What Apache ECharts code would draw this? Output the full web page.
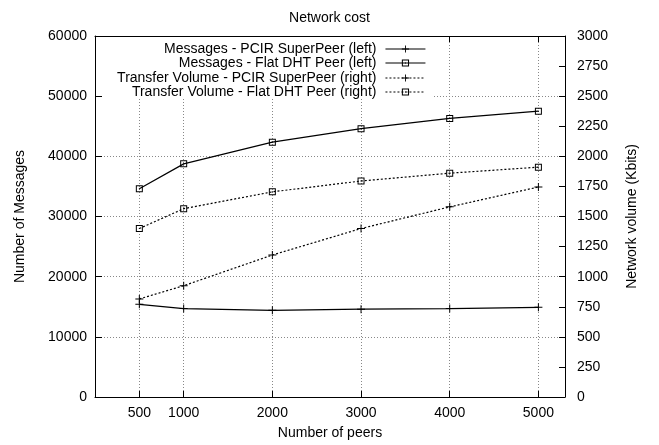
<!DOCTYPE html>
<html>
<head>
<meta charset="utf-8">
<script src="https://cdn.jsdelivr.net/npm/echarts@6/dist/echarts.min.js"></script>
<style>html,body{margin:0;padding:0;background:#fff}#c{width:659px;height:445px}</style>
</head>
<body>
<div id="c"></div>
<script>
const peers = [500, 1000, 2000, 3000, 4000, 5000];
const msgPcir = [15400, 14700, 14400, 14600, 14700, 14900];
const msgFlat = [34600, 38750, 42350, 44600, 46300, 47500];
const volPcir = [815, 925, 1180, 1400, 1580, 1745];
const volFlat = [1400, 1565, 1705, 1795, 1860, 1910];
const leftTicks = {min: 0, max: 60000, interval: 10000};
const rightTicks = {min: 0, max: 3000, interval: 250};
const names = [
  'Messages - PCIR SuperPeer (left)',
  'Messages - Flat DHT Peer (left)',
  'Transfer Volume - PCIR SuperPeer (right)',
  'Transfer Volume - Flat DHT Peer (right)'
];

const FONT = 'Liberation Sans';
const crossSym = 'path://M7,0H9V7H16V9H9V16H7V9H0V7H7Z';
const squareSym = 'path://M0,0H14V14H0Z M2,2V12H12V2Z M6,6H8V8H6Z';
const zip = (xs, ys) => xs.map((x, i) => [x, ys[i]]);
const plain = v => String(v);

const chart = echarts.init(document.getElementById('c'), null, {renderer: 'canvas'});
const txt = {color: '#000', fontFamily: FONT, fontSize: 14};

function mkSeries(name, data, yIdx, dotted, sym, size) {
  return {
    name: name, type: 'line', xAxisIndex: 0, yAxisIndex: yIdx,
    data: data, symbol: sym, symbolSize: size, symbolKeepAspect: true,
    showSymbol: true,
    lineStyle: {color: '#000', width: 1.2, type: dotted ? [2, 2] : 'solid'},
    itemStyle: {color: '#000'},
    emphasis: {disabled: true}
  };
}

const legendCenters = [49, 63, 78, 92];
const legends = names.map((n, i) => ({
  data: [n], orient: 'vertical', align: 'right', right: 233,
  top: legendCenters[i] - 7, itemWidth: 40, itemHeight: 9, padding: 0,
  selectedMode: false,
  lineStyle: {width: 1.1},
  textStyle: Object.assign({}, txt, {lineHeight: 14, padding: [0, 4, 0, 0]})
}));

const option = {
  animation: false,
  backgroundColor: '#fff',
  title: {text: 'Network cost', left: 'center', top: 6,
    textStyle: {color: '#000', fontFamily: FONT, fontSize: 14, fontWeight: 'normal'}},
  grid: {left: 95, right: 94, top: 36, bottom: 45, containLabel: false},
  legend: legends,
  graphic: [{type: 'rect', shape: {x: 103, y: 37, width: 330, height: 62},
    style: {fill: '#fff'}, z: 1, silent: true}],
  xAxis: [{
    type: 'value', min: 0, max: 5300, position: 'bottom',
    name: 'Number of peers', nameLocation: 'middle', nameGap: 29,
    nameTextStyle: txt,
    axisLine: {show: true, onZero: false, lineStyle: {color: '#000', width: 1}},
    axisTick: {show: true, inside: true, length: 6, customValues: peers, lineStyle: {color: '#000'}},
    axisLabel: Object.assign({customValues: peers, margin: 9, formatter: plain}, txt),
    splitLine: {show: true, lineStyle: {color: '#888', width: 1, type: [1, 2]}}
  }, {
    type: 'value', min: 0, max: 5300, position: 'top',
    axisLine: {show: true, onZero: false, lineStyle: {color: '#000', width: 1}},
    axisTick: {show: true, inside: true, length: 6, customValues: peers, lineStyle: {color: '#000'}},
    axisLabel: {show: false},
    splitLine: {show: false}
  }],
  yAxis: [{
    type: 'value', min: leftTicks.min, max: leftTicks.max, interval: leftTicks.interval,
    position: 'left',
    name: 'Number of Messages', nameLocation: 'middle', nameGap: 68, nameRotate: 90,
    nameTextStyle: txt,
    axisLine: {show: true, onZero: false, lineStyle: {color: '#000', width: 1}},
    axisTick: {show: true, inside: true, length: 7, lineStyle: {color: '#000'}},
    axisLabel: Object.assign({margin: 8, formatter: plain}, txt),
    splitLine: {show: true, lineStyle: {color: '#888', width: 1, type: [1, 2]}}
  }, {
    type: 'value', min: rightTicks.min, max: rightTicks.max, interval: rightTicks.interval,
    position: 'right',
    name: 'Network volume (Kbits)', nameLocation: 'middle', nameGap: 60, nameRotate: 90,
    nameTextStyle: txt,
    axisLine: {show: true, onZero: false, lineStyle: {color: '#000', width: 1}},
    axisTick: {show: true, inside: true, length: 6, lineStyle: {color: '#000'}},
    axisLabel: Object.assign({margin: 12, formatter: plain}, txt),
    splitLine: {show: false}
  }],
  series: [
    mkSeries(names[0], zip(peers, msgPcir), 0, false, crossSym, 8),
    mkSeries(names[1], zip(peers, msgFlat), 0, false, squareSym, 7),
    mkSeries(names[2], zip(peers, volPcir), 1, true, crossSym, 8),
    mkSeries(names[3], zip(peers, volFlat), 1, true, squareSym, 7)
  ]
};
chart.setOption(option);
</script>
</body>
</html>
